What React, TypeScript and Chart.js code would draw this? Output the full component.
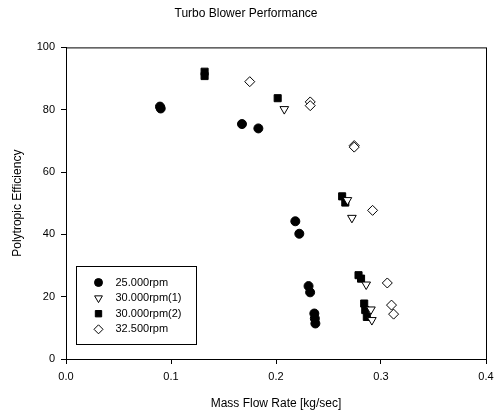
import React, { useEffect, useRef } from "react";
import { Chart, registerables } from "chart.js";

Chart.register(...registerables);

const seriesLabels = ["25.000rpm", "30.000rpm(1)", "30.000rpm(2)", "32.500rpm"];

const rpm25X = [0.0895, 0.0902, 0.1676, 0.1832, 0.2184, 0.2222, 0.231, 0.2325, 0.2365, 0.237, 0.2375];
const rpm25Y = [81, 80.4, 75.4, 74.0, 44.2, 40.2, 23.4, 21.4, 14.6, 13, 11.4];

const rpm30aX = [0.2079, 0.268, 0.2723, 0.2859, 0.2904, 0.2913];
const rpm30aY = [80.2, 51, 45.3, 23.9, 15.9, 12.5];

const rpm30bX = [0.132, 0.132, 0.2016, 0.263, 0.266, 0.2786, 0.281, 0.284, 0.285, 0.2865];
const rpm30bY = [92.2, 90.8, 83.7, 52.2, 50.2, 26.9, 25.8, 17.8, 15.7, 13.5];

const rpm325X = [0.175, 0.2326, 0.2326, 0.2745, 0.2745, 0.292, 0.306, 0.310, 0.312];
const rpm325Y = [89, 82.5, 81.3, 68.5, 68, 47.7, 24.4, 17.3, 14.4];

const xTicks = [0, 0.1, 0.2, 0.3, 0.4];
const yTicks = [0, 20, 40, 60, 80, 100];

const FONT = "'Liberation Sans', Arial, sans-serif";

function pts(xs: number[], ys: number[]) {
  return xs.map((x, i) => ({ x, y: ys[i] }));
}

const styles = [
  { pointStyle: "circle", radius: 4.5, rotation: 0, fill: "#000" },
  { pointStyle: "triangle", radius: 5, rotation: 180, fill: "#fff" },
  { pointStyle: "rect", radius: 5, rotation: 0, fill: "#000" },
  { pointStyle: "rectRot", radius: 5, rotation: 0, fill: "#fff" },
];

function drawMarker(ctx: CanvasRenderingContext2D, style: string, r: number, rot: number, x: number, y: number, fill: string) {
  ctx.save();
  ctx.beginPath();
  ctx.fillStyle = fill;
  ctx.strokeStyle = "#000";
  ctx.lineWidth = 1;
  if (style === "circle") {
    ctx.arc(x, y, r, 0, Math.PI * 2);
  } else if (style === "triangle") {
    let rad = (rot * Math.PI) / 180;
    ctx.moveTo(x + Math.sin(rad) * r, y - Math.cos(rad) * r);
    rad += (2 * Math.PI) / 3;
    ctx.lineTo(x + Math.sin(rad) * r, y - Math.cos(rad) * r);
    rad += (2 * Math.PI) / 3;
    ctx.lineTo(x + Math.sin(rad) * r, y - Math.cos(rad) * r);
    ctx.closePath();
  } else if (style === "rect") {
    const s = Math.SQRT1_2 * r;
    ctx.rect(x - s, y - s, 2 * s, 2 * s);
  } else {
    ctx.moveTo(x - r, y);
    ctx.lineTo(x, y - r);
    ctx.lineTo(x + r, y);
    ctx.lineTo(x, y + r);
    ctx.closePath();
  }
  ctx.fill();
  ctx.stroke();
  ctx.restore();
}

const framePlugin = {
  id: "frameAndLegend",
  afterDraw(chart: any) {
    const { ctx, chartArea } = chart;
    ctx.save();
    ctx.strokeStyle = "#000";
    ctx.lineWidth = 1;
    ctx.strokeRect(chartArea.left + 0.5, chartArea.top + 0.5, chartArea.right - chartArea.left, chartArea.bottom - chartArea.top);
    // legend box
    const bx = chartArea.left + 10.5;
    const bw = 120;
    const bh = 78;
    const by = chartArea.bottom - 15 - bh + 0.5;
    ctx.fillStyle = "#fff";
    ctx.fillRect(bx, by, bw, bh);
    ctx.strokeRect(bx, by, bw, bh);
    ctx.font = "11px " + FONT;
    ctx.textBaseline = "middle";
    ctx.fillStyle = "#000";
    seriesLabels.forEach((lab, i) => {
      const yy = by + 16 + i * 15.6;
      const st = styles[i];
      drawMarker(ctx, st.pointStyle, st.radius - 0.5, st.rotation, bx + 22, yy, st.fill);
      ctx.fillStyle = "#000";
      ctx.fillText(lab, bx + 39, yy);
    });
    ctx.restore();
  },
};

export default function App() {
  const ref = useRef<HTMLCanvasElement | null>(null);
  useEffect(() => {
    if (!ref.current) return;
    const datasets = [
      pts(rpm25X, rpm25Y),
      pts(rpm30aX, rpm30aY),
      pts(rpm30bX, rpm30bY),
      pts(rpm325X, rpm325Y),
    ].map((data, i) => ({
      label: seriesLabels[i],
      data,
      showLine: false,
      pointStyle: styles[i].pointStyle as any,
      pointRadius: styles[i].radius,
      pointRotation: styles[i].rotation,
      pointBackgroundColor: styles[i].fill,
      pointBorderColor: "#000",
      pointBorderWidth: 1,
      backgroundColor: styles[i].fill,
      borderColor: "#000",
    }));
    const chart = new Chart(ref.current, {
      type: "scatter",
      data: { datasets },
      options: {
        animation: false,
        responsive: false,
        devicePixelRatio: 1,
        layout: { padding: { left: 6, right: 14, top: 0, bottom: 0 } },
        plugins: {
          legend: { display: false },
          tooltip: { enabled: false },
          title: {
            display: true,
            text: "Turbo Blower Performance",
            color: "#000",
            font: { family: FONT, size: 12, weight: "normal" },
            padding: { top: 6, bottom: 27 },
          },
        },
        scales: {
          x: {
            type: "linear",
            min: 0,
            max: 0.4,
            afterBuildTicks: (scale: any) => {
              scale.ticks = xTicks.map((v) => ({ value: v }));
            },
            afterFit: (scale: any) => {
              scale.height = 56;
            },
            ticks: {
              color: "#000",
              font: { family: FONT, size: 11 },
              padding: 6,
              callback: (v: any) => Number(v).toFixed(1),
            },
            grid: { display: true, drawOnChartArea: false, drawTicks: true, tickLength: 5, color: "#000" },
            border: { display: true, color: "#000" },
            title: {
              display: true,
              text: "Mass Flow Rate [kg/sec]",
              color: "#000",
              font: { family: FONT, size: 12 },
              padding: { top: 5 },
            },
          },
          y: {
            type: "linear",
            min: 0,
            max: 100,
            afterBuildTicks: (scale: any) => {
              scale.ticks = yTicks.map((v) => ({ value: v }));
            },
            afterFit: (scale: any) => {
              scale.width = 60;
            },
            ticks: {
              color: "#000",
              font: { family: FONT, size: 11 },
              padding: 6,
            },
            grid: { display: true, drawOnChartArea: false, drawTicks: true, tickLength: 5, color: "#000" },
            border: { display: true, color: "#000" },
            title: {
              display: true,
              text: "Polytropic Efficiency",
              color: "#000",
              font: { family: FONT, size: 12 },
              padding: { bottom: 4 },
            },
          },
        },
      },
      plugins: [framePlugin],
    });
    return () => chart.destroy();
  }, []);
  return (
    <div style={{ position: "fixed", left: 0, top: 0, width: 500, height: 415, background: "#fff" }}>
      <canvas ref={ref} width={500} height={415} style={{ display: "block" }} />
    </div>
  );
}
